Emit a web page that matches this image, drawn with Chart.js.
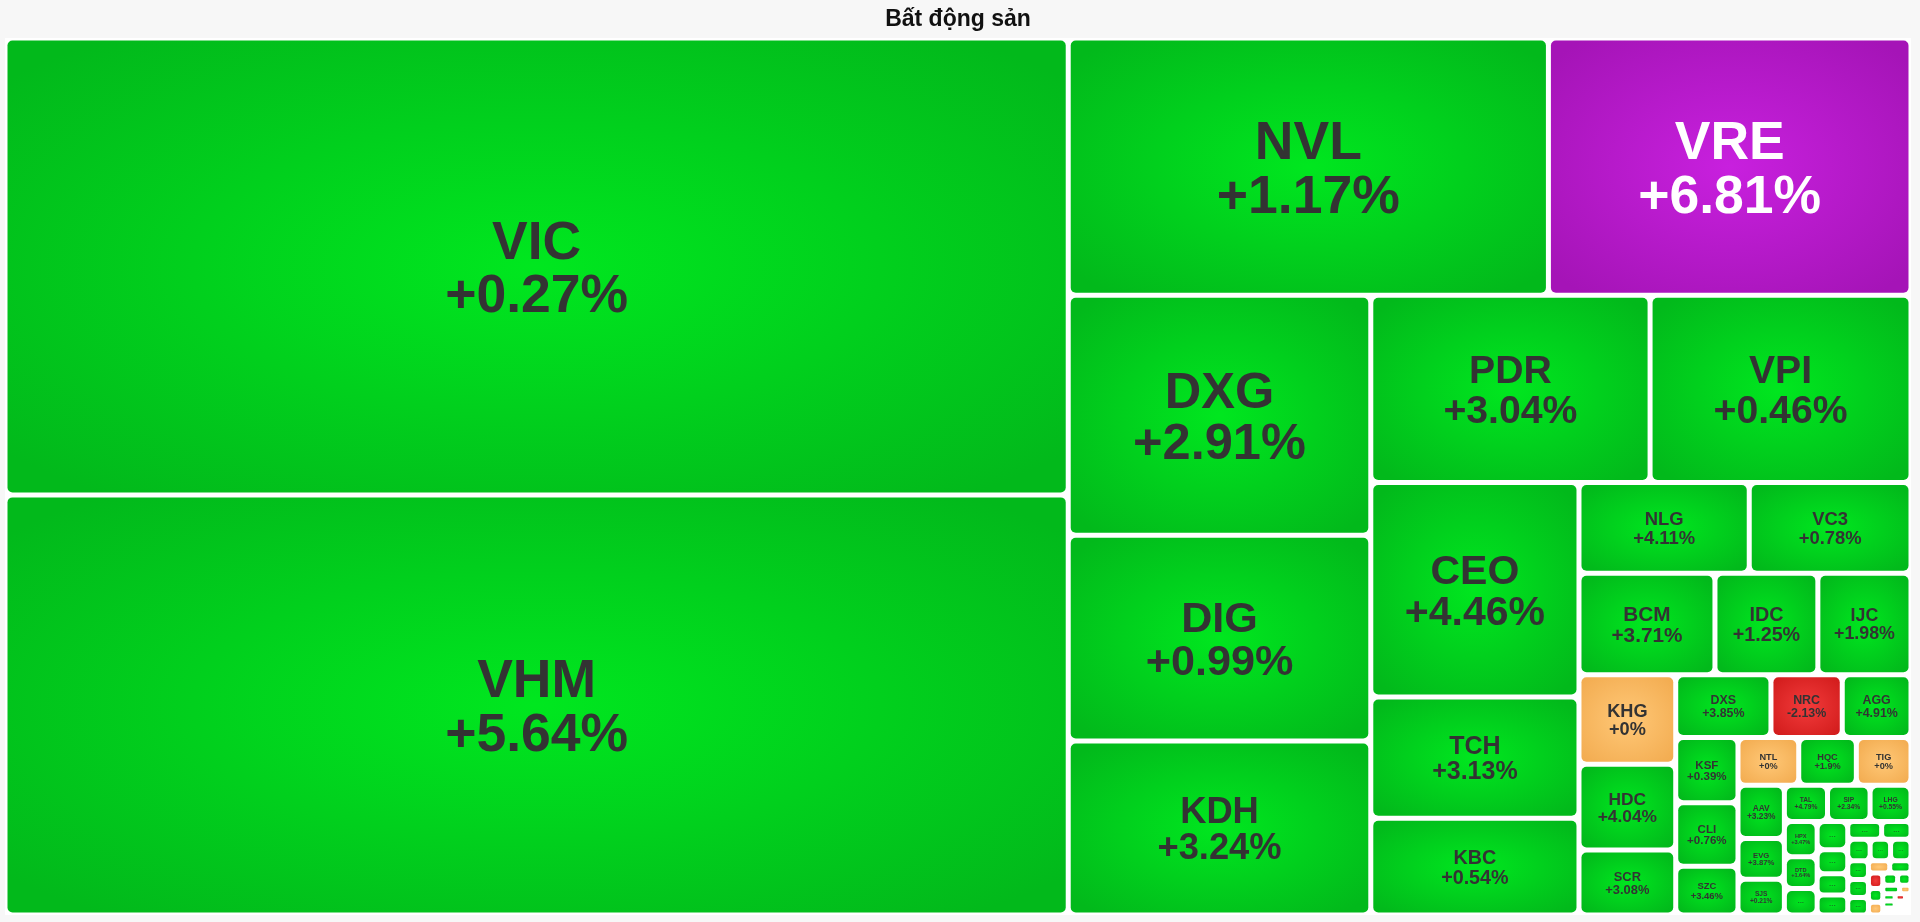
<!DOCTYPE html>
<html lang="vi">
<head>
<meta charset="utf-8">
<title>Bất động sản</title>
<script src="https://cdn.jsdelivr.net/npm/chart.js@4.4.1/dist/chart.umd.min.js"></script>
<style>
  html, body { margin: 0; padding: 0; background: #f7f7f7; }
  #wrap { width: 1920px; height: 922px; }
</style>
</head>
<body>
<div id="wrap"><canvas id="canvas"></canvas></div>
<script>
// labelled cells, largest first (weight = relative market size)
var tickers = ['VIC', 'VHM', 'NVL', 'VRE', 'DXG', 'DIG', 'KDH', 'PDR', 'VPI', 'CEO',
               'TCH', 'KBC', 'NLG', 'VC3', 'BCM', 'IDC', 'IJC', 'KHG', 'HDC', 'SCR',
               'DXS', 'NRC', 'AGG', 'KSF', 'CLI', 'SZC', 'NTL', 'HQC', 'TIG', 'AAV',
               'EVG', 'SJS', 'TAL', 'SIP', 'LHG', 'HPX', 'DTD'];
var changes = [0.27, 5.64, 1.17, 6.81, 2.91, 0.99, 3.24, 3.04, 0.46, 4.46,
               3.13, 0.54, 4.11, 0.78, 3.71, 1.25, 1.98, 0, 4.04, 3.08,
               3.85, -2.13, 4.91, 0.39, 0.76, 3.46, 0, 1.9, 0, 3.23,
               3.87, 0.21, 4.79, 2.34, 0.55, 3.47, 1.64];
var weights = [485450, 446400, 123430, 93200, 72590, 62220, 52590, 52300, 48860, 44600,
               25230, 20140, 15420, 14650, 13810, 10450, 9460, 8650, 8290, 6280,
               5970, 4470, 4310, 4060, 3940, 3040, 2900, 2750, 2610, 2460,
               1890, 1660, 1560, 1540, 1480, 1150, 1040];

// cells too small to carry a label, only their colour can be read
var smallWeights = [870, 860, 740, 650, 610, 600, 520, 483, 441, 441,
                    385, 375, 360, 259, 259, 223, 196, 182, 182, 165,
                    140, 95, 90, 88, 85, 75,
                    40, 35, 30, 28, 25, 22, 20, 18, 15, 12, 10, 8];
var smallTrends = ['up', 'up', 'up', 'up', 'up', 'up', 'up', 'up', 'up', 'up',
                   'up', 'up', 'up', 'ref', 'up', 'down', 'up', 'ref', 'up', 'up',
                   'up', 'ref', 'up', 'up', 'up', 'down',
                   'up', 'up', 'up', 'up', 'up', 'up', 'up', 'up', 'up', 'up', 'up', 'up'];

var FONT = '"Liberation Sans", Arial, Helvetica, sans-serif';
var GAP = 5;
var TARGET_RATIO = 1.3;   // preferred width / height of a cell

var palette = {
    up:   ['#00e71f', '#02b91b'],
    ref:  ['#ffc877', '#f3ad52'],
    down: ['#f23b3b', '#d31d1d'],
    ceil: ['#c820de', '#a514b7']
};

function trendOf(ch) {
    if (ch >= 6.7) return 'ceil';
    if (ch > 0) return 'up';
    if (ch < 0) return 'down';
    return 'ref';
}

var cells = [];
tickers.forEach(function(t, i) {
    cells.push({ ticker: t, change: changes[i], weight: weights[i], trend: trendOf(changes[i]) });
});
smallWeights.forEach(function(w, i) {
    cells.push({ ticker: '', change: null, weight: w, trend: smallTrends[i] });
});

function badness(row, side, vertical) {
    var sum = row.reduce(function(a, b) { return a + b; }, 0);
    var thick = sum / side;
    var worst = 0;
    row.forEach(function(a) {
        var len = a / thick;
        var ratio = vertical ? thick / len : len / thick;
        worst = Math.max(worst, ratio / TARGET_RATIO, TARGET_RATIO / ratio);
    });
    return worst;
}

// squarified layout inside the pixel box given by the scales
function squarify(values, x0, y0, x1, y1) {
    var total = values.reduce(function(a, b) { return a + b; }, 0);
    var k = (x1 - x0) * (y1 - y0) / total;
    var rects = [];
    var i = 0;
    while (i < values.length) {
        var w = x1 - x0, h = y1 - y0;
        var vertical = h <= w;
        var side = vertical ? h : w;
        var row = [values[i] * k];
        var best = badness(row, side, vertical);
        var j = i + 1;
        while (j < values.length) {
            var next = row.concat(values[j] * k);
            var score = badness(next, side, vertical);
            if (score > best) break;
            row = next;
            best = score;
            j++;
        }
        var sum = row.reduce(function(a, b) { return a + b; }, 0);
        var thick = sum / side;
        var pos = vertical ? y0 : x0;
        row.forEach(function(a, n) {
            var len = a / thick;
            if (vertical) rects.push({ x: x0, y: pos, w: thick, h: len, idx: i + n });
            else rects.push({ x: pos, y: y0, w: len, h: thick, idx: i + n });
            pos += len;
        });
        if (vertical) x0 += thick; else y0 += thick;
        i = j;
    }
    return rects;
}

function fmt(ch) {
    var s = String(Math.round(ch * 100) / 100);
    return (ch >= 0 ? '+' : '') + s + '%';
}

function fillCell(ctx, x, y, w, h, colors) {
    var r = Math.min(5, w / 4, h / 4);
    ctx.save();
    ctx.beginPath();
    if (ctx.roundRect) ctx.roundRect(x, y, w, h, r); else ctx.rect(x, y, w, h);
    ctx.translate(x + w / 2, y + h / 2);
    ctx.scale(w / 2, h / 2);
    var g = ctx.createRadialGradient(0, 0, 0, 0, 0, 1.3);
    g.addColorStop(0, colors[0]);
    g.addColorStop(1, colors[1]);
    ctx.fillStyle = g;
    ctx.fill();
    ctx.restore();
}

function drawLabel(ctx, cell, x, y, w, h) {
    var cx = x + w / 2, cy = y + h / 2;
    ctx.textAlign = 'center';
    ctx.textBaseline = 'alphabetic';
    ctx.fillStyle = cell.trend === 'ceil' ? '#ffffff' : '#333333';
    if (cell.ticker) {
        var line2 = fmt(cell.change);
        ctx.font = 'bold 100px ' + FONT;
        var tw = Math.max(ctx.measureText(cell.ticker).width, ctx.measureText(line2).width) / 100;
        var fs = Math.min(h * 0.215, w * 0.69 / tw, 53.5);
        if (fs >= 4) {
            ctx.font = 'bold ' + fs.toFixed(2) + 'px ' + FONT;
            var cap = fs * 0.716;
            var b1 = cy - (cap + fs) / 2 + cap;
            ctx.fillText(cell.ticker, cx, b1);
            ctx.fillText(line2, cx, b1 + fs);
            return;
        }
    }
    if (w >= 12 && h >= 8) {
        var ds = Math.min(8, h * 0.6, w * 0.4);
        ctx.font = 'bold ' + ds.toFixed(2) + 'px ' + FONT;
        ctx.fillStyle = 'rgba(40,40,40,0.55)';
        ctx.fillText('...', cx, cy + ds * 0.15);
    }
}

var treemapPlugin = {
    id: 'treemapCells',
    afterDatasetsDraw: function(chart) {
        var ctx = chart.ctx;
        var xs = chart.scales.x, ys = chart.scales.y;
        var left = xs.getPixelForValue(xs.min), right = xs.getPixelForValue(xs.max);
        var top = ys.getPixelForValue(ys.max), bottom = ys.getPixelForValue(ys.min);
        ctx.save();
        ctx.fillStyle = '#ffffff';
        ctx.fillRect(left, top, right - left, bottom - top);
        var rects = squarify(cells.map(function(c) { return c.weight; }), left, top, right, bottom);
        rects.forEach(function(r) {
            var x = r.x + GAP / 2, y = r.y + GAP / 2;
            var w = r.w - GAP, h = r.h - GAP;
            if (w < 2 || h < 2) return;
            var cell = cells[r.idx];
            fillCell(ctx, x, y, w, h, palette[cell.trend]);
            drawLabel(ctx, cell, x, y, w, h);
        });
        ctx.restore();
    }
};

var ctx = document.getElementById('canvas').getContext('2d');
var myChart = new Chart(ctx, {
    type: 'scatter',
    data: { datasets: [] },
    options: {
        responsive: true,
        maintainAspectRatio: false,
        animation: false,
        layout: { padding: { left: 5, right: 9, top: 0, bottom: 7 } },
        scales: {
            x: { display: false, min: 0, max: 1 },
            y: { display: false, min: 0, max: 1 }
        },
        plugins: {
            legend: { display: false },
            tooltip: { enabled: false },
            title: {
                display: true,
                text: 'Bất động sản',
                color: '#111111',
                font: { family: FONT, size: 23, weight: 'bold' },
                padding: { top: 6, bottom: 4.4 }
            }
        }
    },
    plugins: [treemapPlugin]
});
</script>
</body>
</html>
